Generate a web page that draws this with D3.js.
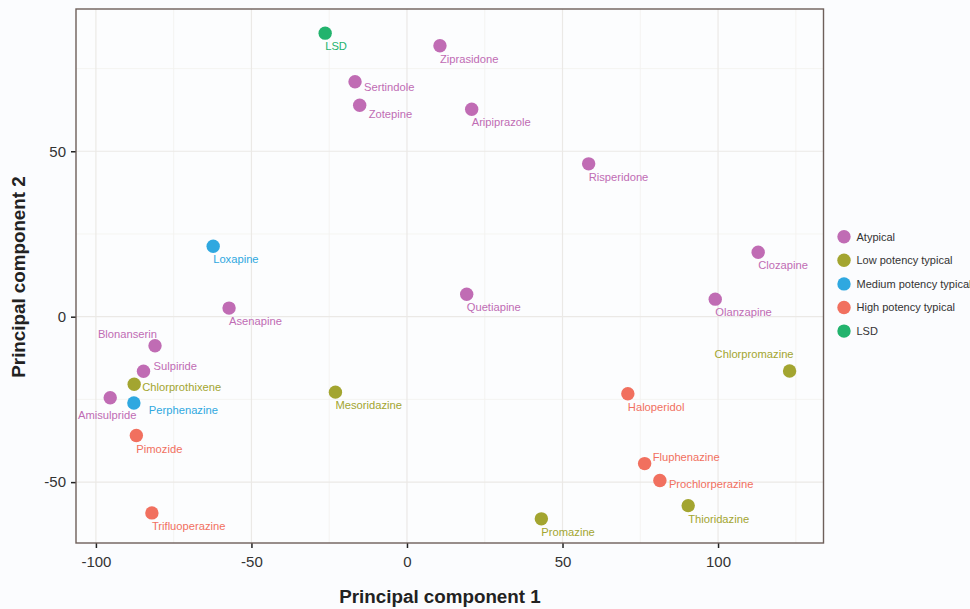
<!DOCTYPE html>
<html>
<head>
<meta charset="utf-8">
<script src="https://cdn.jsdelivr.net/npm/d3@7"></script>
<style>
  html, body { margin: 0; padding: 0; background: #fbfcfe; }
  svg { display: block; font-family: "Liberation Sans", Arial, Helvetica, sans-serif; }
</style>
</head>
<body>
<svg id="chart" width="970" height="609"></svg>
<script>
// ---- data ----
const drugs = ["LSD","Sertindole","Zotepine","Loxapine","Ziprasidone","Aripiprazole","Risperidone","Clozapine",
  "Quetiapine","Olanzapine","Chlorpromazine","Haloperidol","Fluphenazine","Prochlorperazine","Thioridazine","Promazine",
  "Asenapine","Blonanserin","Sulpiride","Chlorprothixene","Amisulpride","Perphenazine","Pimozide","Trifluoperazine","Mesoridazine"];
const pc1 = [-26.3,-16.7,-15.2,-62.3,10.6,20.8,58.4,112.9,
  19.2,99.1,123.0,71.0,76.4,81.3,90.4,43.2,
  -57.2,-81.0,-84.7,-87.7,-95.4,-87.8,-87.0,-82.0,-23.0];
const pc2 = [85.7,71.0,63.9,21.3,81.9,62.7,46.2,19.5,
  6.8,5.3,-16.4,-23.3,-44.4,-49.5,-57.1,-61.1,
  2.6,-8.8,-16.5,-20.4,-24.5,-26.1,-35.9,-59.3,-22.8];
const groups = ["LSD","Atypical","Atypical","Medium potency typical","Atypical","Atypical","Atypical","Atypical",
  "Atypical","Atypical","Low potency typical","High potency typical","High potency typical","High potency typical","Low potency typical","Low potency typical",
  "Atypical","Atypical","Atypical","Low potency typical","Atypical","Medium potency typical","High potency typical","High potency typical","Low potency typical"];
const categories = ["Atypical","Low potency typical","Medium potency typical","High potency typical","LSD"];
const xTicks = [-100,-50,0,50,100];
const yTicks = [-50,0,50];
const xTitle = "Principal component 1";
const yTitle = "Principal component 2";

// ---- layout / style ----
const colors = ["#c06cb4","#a3a530","#2fa8e0","#f1705f","#22b36d"];
// label placement (like ggrepel output): [dx, dy, anchor]
const labelPlace = {
  "Sertindole":[9,5,"start"], "Zotepine":[9,9,"start"], "Chlorpromazine":[4,-17,"end"],
  "Fluphenazine":[8,-7,"start"], "Prochlorperazine":[9,3,"start"], "Blonanserin":[2,-12,"end"],
  "Sulpiride":[10,-5,"start"], "Chlorprothixene":[8,3,"start"], "Amisulpride":[-3,17,"middle"],
  "Perphenazine":[15,7,"start"]
};
const defaultPlace = [0,13,"start"];
const fmt = d => String(d); // plain hyphen-minus as in the original

const svg = d3.select("#chart");
const L = 76, R = 823.5, T = 9, B = 543;
const x = d3.scaleLinear().domain([-106.4, 133.9]).range([L, R]);
const y = d3.scaleLinear().domain([-68.4, 93.0]).range([B, T]);
const color = d3.scaleOrdinal().domain(categories).range(colors);

// panel background
svg.append("rect").attr("x", L).attr("y", T).attr("width", R - L).attr("height", B - T).attr("fill", "#fcfdfe");

// minor grid
const xMinor = xTicks.map(v => v + 25).concat([xTicks[0] - 25]).filter(v => v > x.domain()[0] && v < x.domain()[1]);
const yMinor = [yTicks[0] - 25].concat(yTicks.map(v => v + 25)).filter(v => v > y.domain()[0] && v < y.domain()[1]);
const g = svg.append("g");
g.selectAll(".xminor").data(xMinor).join("line")
  .attr("x1", d => x(d)).attr("x2", d => x(d)).attr("y1", T).attr("y2", B)
  .attr("stroke", "#f3f1ee").attr("stroke-width", 0.8);
g.selectAll(".yminor").data(yMinor).join("line")
  .attr("y1", d => y(d)).attr("y2", d => y(d)).attr("x1", L).attr("x2", R)
  .attr("stroke", "#f3f1ee").attr("stroke-width", 0.8);
g.selectAll(".xmajor").data(xTicks).join("line")
  .attr("x1", d => x(d)).attr("x2", d => x(d)).attr("y1", T).attr("y2", B)
  .attr("stroke", "#ebe9e6").attr("stroke-width", 1.2);
g.selectAll(".ymajor").data(yTicks).join("line")
  .attr("y1", d => y(d)).attr("y2", d => y(d)).attr("x1", L).attr("x2", R)
  .attr("stroke", "#ebe9e6").attr("stroke-width", 1.2);

// axes
const xAxis = svg.append("g").attr("transform", `translate(0,${B})`)
  .call(d3.axisBottom(x).tickValues(xTicks).tickSize(5).tickPadding(5).tickFormat(fmt));
const yAxis = svg.append("g").attr("transform", `translate(${L},0)`)
  .call(d3.axisLeft(y).tickValues(yTicks).tickSize(5).tickPadding(5).tickFormat(fmt));
[xAxis, yAxis].forEach(a => {
  a.select(".domain").remove();
  a.selectAll(".tick line").attr("stroke", "#222").attr("stroke-width", 1.5);
  a.selectAll(".tick text").attr("fill", "#333").attr("font-size", 15)
    .attr("font-family", "'Liberation Sans', Arial, sans-serif");
});
xAxis.selectAll(".tick text").attr("dy", "0.95em");

// panel border
svg.append("rect").attr("x", L).attr("y", T).attr("width", R - L).attr("height", B - T)
  .attr("fill", "none").attr("stroke", "#6e5f5a").attr("stroke-width", 1.4);

// points
const pts = drugs.map((d, i) => ({name: d, px: pc1[i], py: pc2[i], grp: groups[i]}));
svg.append("g").selectAll("circle").data(pts).join("circle")
  .attr("cx", d => x(d.px)).attr("cy", d => y(d.py)).attr("r", 6.7)
  .attr("fill", d => color(d.grp));

// labels
svg.append("g").selectAll("text").data(pts).join("text")
  .each(function(d) {
    const p = labelPlace[d.name] || defaultPlace;
    d3.select(this).attr("x", x(d.px) + p[0]).attr("y", y(d.py) + p[1])
      .attr("text-anchor", p[2]);
  })
  .attr("dy", "0.36em")
  .attr("font-size", 11.2).attr("fill", d => color(d.grp))
  .text(d => d.name);

// axis titles
svg.append("text").attr("x", 440).attr("y", 603).attr("text-anchor", "middle")
  .attr("font-size", 18.8).attr("font-weight", "bold").attr("fill", "#222").text(xTitle);
svg.append("text").attr("transform", `translate(25,277) rotate(-90)`).attr("text-anchor", "middle")
  .attr("font-size", 18.8).attr("font-weight", "bold").attr("fill", "#222").text(yTitle);

// legend
const leg = svg.append("g").attr("transform", "translate(844,236.7)");
const items = leg.selectAll("g").data(categories).join("g")
  .attr("transform", (d, i) => `translate(0,${i * 23.6})`);
items.append("circle").attr("r", 6.7).attr("fill", d => color(d));
items.append("text").attr("x", 12.5).attr("dy", "0.36em").attr("font-size", 11)
  .attr("fill", "#333").text(d => d);
</script>
</body>
</html>
